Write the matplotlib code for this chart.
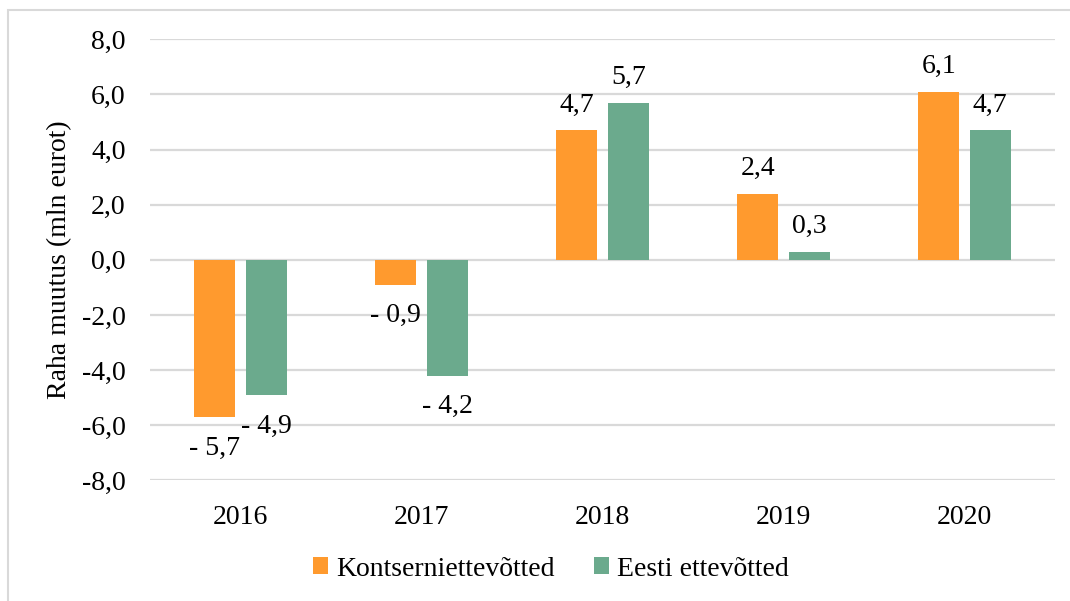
import matplotlib.pyplot as plt
import numpy as np
from matplotlib.patches import Rectangle

years = ['2016', '2017', '2018', '2019', '2020']
kontsern = [-5.7, -0.9, 4.7, 2.4, 6.1]
eesti = [-4.9, -4.2, 5.7, 0.3, 4.7]
series_names = ['Kontserniettevõtted', 'Eesti ettevõtted']
yticks = [-8, -6, -4, -2, 0, 2, 4, 6, 8]

c_orange = '#FF9A2E'
c_green = '#6BAA8D'
grid_c = '#D9D9D9'
fs = 20

plt.rcParams['font.family'] = ['Liberation Serif', 'DejaVu Serif']

fig = plt.figure(figsize=(10.70, 6.01), dpi=100)
ax = fig.add_axes([0.1402, 0.2005, 0.8458, 0.7341])

x = np.arange(len(years))
w = 0.225
off = 0.142
b1 = ax.bar(x - off, kontsern, w, color=c_orange, label=series_names[0], zorder=3)
b2 = ax.bar(x + off, eesti, w, color=c_green, label=series_names[1], zorder=3)

def fmt(v):
    s = f"{abs(v):.1f}".replace('.', ',')
    return ('- ' + s) if v < 0 else s

for xs, vals in [(x - off, kontsern), (x + off, eesti)]:
    for xi, v in zip(xs, vals):
        dy = 25 if v >= 0 else -31
        ax.annotate(fmt(v), (xi, v), xytext=(0, dy), textcoords='offset pixels',
                    ha='center', va='center', fontsize=fs, color='black')

ax.set_ylim(-8, 8)
ax.set_xlim(-0.5, 4.5)
ax.set_yticks(yticks)
ax.set_yticklabels([f"{t:.1f}".replace('.', ',') for t in yticks])
ax.set_xticks(x)
ax.set_xticklabels(years)
ax.tick_params(axis='both', length=0, labelsize=fs, colors='black')
ax.tick_params(axis='y', pad=17.5)
ax.tick_params(axis='x', pad=18)
ax.grid(axis='y', color=grid_c, linewidth=1.6, zorder=0)
for s in ax.spines.values():
    s.set_visible(False)

ax.set_ylabel('Raha muutus (mln eurot)', fontsize=fs)
ax.yaxis.set_label_coords(-0.086, 0.5)

fig.legend(handles=[b1, b2], labels=series_names, loc='center',
           bbox_to_anchor=(0.515, 0.053), ncol=2, frameon=False, fontsize=fs,
           handlelength=0.55, handleheight=0.55, handletextpad=0.3,
           columnspacing=1.4)

fig.patches.append(Rectangle((7.5 / 1070, -0.1), 1.2, (601 - 10) / 601 + 0.1,
                             transform=fig.transFigure, fill=False,
                             edgecolor=grid_c, linewidth=1.5))

fig.savefig('out.png', dpi=100)
